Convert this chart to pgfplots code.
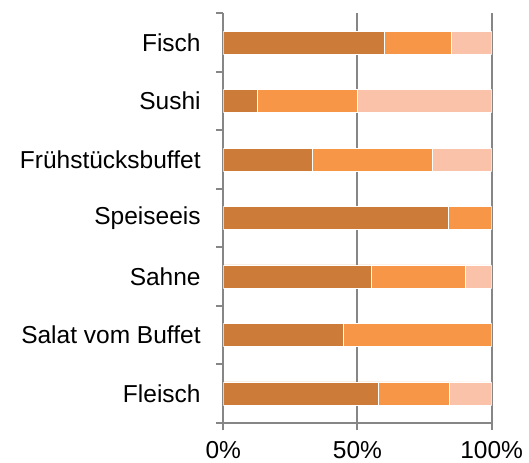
\documentclass[border=0pt]{standalone}
\usepackage{fontspec}
\setmainfont{Liberation Sans}
\usepackage{pgfplots}
\pgfplotsset{compat=1.18}
\usepackage{pgfplotstable}
\usetikzlibrary{calc}

\definecolor{segA}{RGB}{204,123,56}
\definecolor{segB}{RGB}{247,150,70}
\definecolor{segC}{RGB}{250,194,168}
\definecolor{axgray}{RGB}{134,134,134}

% shares per category, bottom row first
\pgfplotstableread{
y a b c
0 57.9 26.3 15.8
1 44.6 55.4 0
2 55.0 35.0 10.0
3 83.8 16.2 0
4 33.3 44.5 22.2
5 12.5 37.5 50.0
6 60.0 25.0 15.0
}\shares

\begin{document}
\begin{tikzpicture}
\begin{axis}[
    name=ax,
    scale only axis,
    width=268.4bp, height=409.4bp,
    xbar stacked,
    bar width=23bp,
    xmin=0, xmax=100,
    ymin=-0.5, ymax=6.5,
    axis x line*=bottom,
    axis y line*=left,
    axis line style={axgray, line width=2bp},
    xtick={0,50,100},
    xticklabels={0\%,50\%,100\%},
    xmajorgrids,
    grid style={axgray, line width=2bp},
    ytick={0,...,6},
    yticklabels={Fleisch,Salat vom Buffet,Sahne,Speiseeis,Frühstücksbuffet,Sushi,Fisch},
    minor ytick={-0.5,0.5,...,6.5},
    tick align=outside,
    major tick length=7.5bp,
    minor tick length=7.5bp,
    tick style={axgray, line width=2bp},
    major y tick style={draw=none},
    tick label style={font=\fontsize{24.5bp}{29bp}\selectfont},
    yticklabel style={inner sep=0pt, xshift=-15bp},
    xticklabel style={inner sep=0pt, yshift=-11bp},
]
\addplot[fill=segA, draw=white, line width=0.5bp] table[x=a, y=y] {\shares};
\addplot[fill=segB, draw=white, line width=0.5bp] table[x=b, y=y] {\shares};
\addplot[fill=segC, draw=white, line width=0.5bp] table[x=c, y=y] {\shares};
\end{axis}
\pgfresetboundingbox
\useasboundingbox ($(ax.south west)+(-223.3bp,-40.3bp)$) rectangle ($(ax.north east)+(37.3bp,13.3bp)$);
\end{tikzpicture}
\end{document}
